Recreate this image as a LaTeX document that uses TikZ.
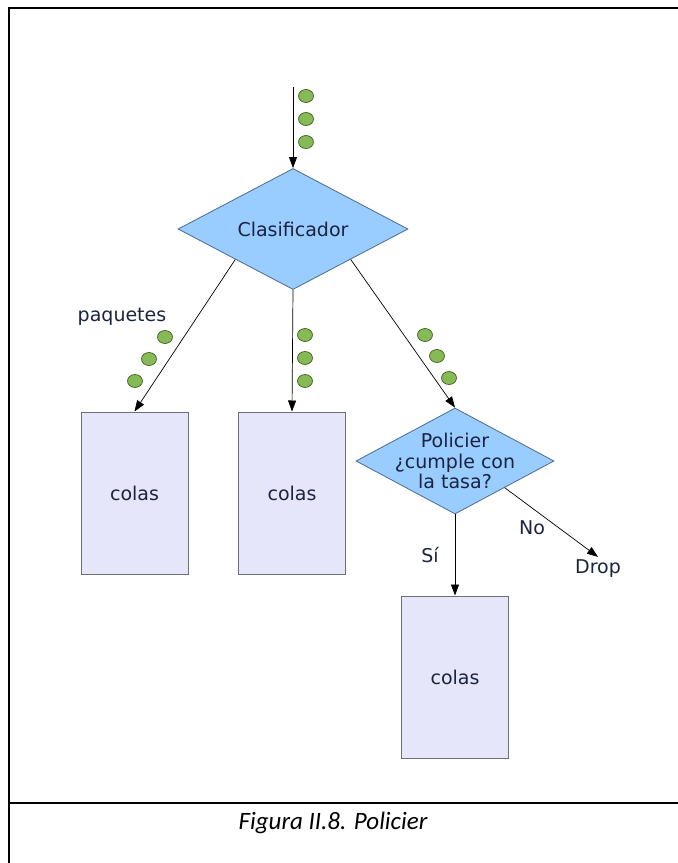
\documentclass[tikz,border=0pt]{standalone}
\usepackage{fontspec}
\setmainfont{DejaVu Sans}
\newfontfamily\capfont{Carlito}
\usetikzlibrary{shapes.geometric,arrows.meta}
\definecolor{diafill}{HTML}{99CCFF}
\definecolor{diaedge}{HTML}{4E6A8E}
\definecolor{boxfill}{HTML}{E6E6FA}
\definecolor{boxedge}{HTML}{6E6E78}
\definecolor{pktfill}{HTML}{86BA56}
\definecolor{pktedge}{HTML}{3F5F22}
\definecolor{labtext}{HTML}{1B2340}
\begin{document}
\begin{tikzpicture}[x=1pt,y=-1pt,
  decision/.style={diamond,draw=diaedge,fill=diafill,line width=0.8pt,inner sep=0pt},
  queue/.style={rectangle,draw=boxedge,fill=boxfill,line width=1pt,minimum width=107pt,minimum height=162pt,inner sep=0pt,font=\fontsize{19}{22}\selectfont,text=labtext},
  pkt/.style={ellipse,draw=pktedge,fill=pktfill,line width=0.7pt,minimum width=15pt,minimum height=13pt,inner sep=0pt},
  flow/.style={line width=0.7pt,-{Triangle[length=11pt,width=8pt]}},
  txt/.style={font=\fontsize{19}{20.5}\selectfont,text=labtext,inner sep=0pt},
  frame/.style={line width=2.5pt,line join=miter}]

\useasboundingbox (0,0) rectangle (678,863);

% outer frame and caption divider
\draw[frame] (9,863) -- (9,8) -- (678,8);
\draw[frame] (9,803) -- (678,803);
\node[font=\capfont\itshape\fontsize{25}{30}\selectfont] (cap) at (333,823) {Figura II.8. Policier};

% decisions
\node[decision,minimum width=230pt,minimum height=121pt,
      label={[txt]center:Clasificador}] (cls) at (293,229) {};
\node[decision,minimum width=198pt,minimum height=106pt,
      label={[txt,align=center]center:Policier\\¿cumple con\\la tasa?}] (pol) at (455,461) {};

% queues
\node[queue] (q1) at (134.5,493) {colas};
\node[queue] (q2) at (292,493) {colas};
\node[queue] (q3) at (455,677) {colas};

% labels
\node[txt] (paq) at (122,317) {paquetes};
\node[txt] (si) at (430,555) {Sí};
\node[txt] (no) at (532,528) {No};
\node[txt,inner sep=3pt] (drop) at (598,569) {Drop};

% connectors
\coordinate (in) at (293,87);
\draw[flow] (in) -- (cls.north);
\draw[flow] (cls.south west) -- (q1.north);
\draw[flow] (cls.south) -- (q2.north);
\draw[flow] (cls.south east) -- (pol.north);
\draw[flow] (pol.south) -- (q3.north);
\draw[flow] (pol.south east) -- (drop.north);

% packets
\node[pkt] (a1) at (306,96) {};
\node[pkt] (a2) at (306,119) {};
\node[pkt] (a3) at (306,142) {};
\node[pkt] (b1) at (165,337) {};
\node[pkt] (b2) at (149,359) {};
\node[pkt] (b3) at (135,381) {};
\node[pkt] (c1) at (305,335) {};
\node[pkt] (c2) at (305,358) {};
\node[pkt] (c3) at (305,381) {};
\node[pkt] (d1) at (425,335) {};
\node[pkt] (d2) at (437,356) {};
\node[pkt] (d3) at (449,378) {};
\end{tikzpicture}
\end{document}
